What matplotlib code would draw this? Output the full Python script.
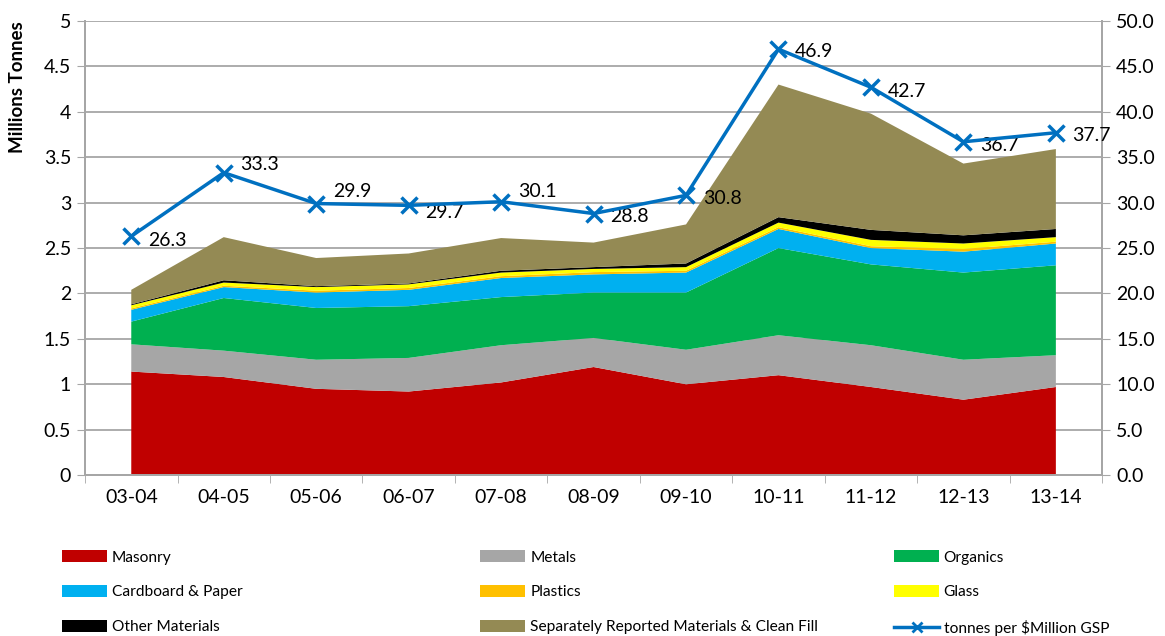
import numpy as np
import matplotlib

matplotlib.use("Agg")
import matplotlib.pyplot as plt
from matplotlib.patches import Patch
from matplotlib.lines import Line2D

plt.rcParams["font.family"] = ["Lato", "DejaVu Sans"]

years = ["03-04", "04-05", "05-06", "06-07", "07-08", "08-09",
         "09-10", "10-11", "11-12", "12-13", "13-14"]

# millions of tonnes, per material
masonry = [1.14, 1.08, 0.95, 0.92, 1.02, 1.19, 1.00, 1.10, 0.97, 0.83, 0.97]
metals = [0.30, 0.29, 0.32, 0.37, 0.41, 0.32, 0.38, 0.44, 0.46, 0.44, 0.35]
organics = [0.25, 0.58, 0.57, 0.57, 0.53, 0.50, 0.63, 0.96, 0.89, 0.96, 0.99]
cardboard = [0.13, 0.12, 0.17, 0.18, 0.21, 0.20, 0.22, 0.21, 0.18, 0.23, 0.24]
plastics = [0.015, 0.015, 0.02, 0.02, 0.02, 0.025, 0.02, 0.02, 0.02, 0.03, 0.02]
glass = [0.035, 0.035, 0.04, 0.04, 0.04, 0.035, 0.04, 0.05, 0.07, 0.06, 0.05]
other = [0.01, 0.025, 0.01, 0.01, 0.02, 0.02, 0.04, 0.06, 0.11, 0.09, 0.09]
separate = [0.16, 0.475, 0.31, 0.33, 0.36, 0.27, 0.43, 1.46, 1.28, 0.79, 0.88]

# tonnes per $million GSP (right axis)
intensity = [26.3, 33.3, 29.9, 29.7, 30.1, 28.8, 30.8, 46.9, 42.7, 36.7, 37.7]

names = ["Masonry", "Metals", "Organics", "Cardboard & Paper", "Plastics",
         "Glass", "Other Materials", "Separately Reported Materials & Clean Fill"]
colors = ["#C00000", "#A6A6A6", "#00B050", "#00B0F0", "#FFC000",
          "#FFFF00", "#000000", "#948A54"]
line_name = "tonnes per $Million GSP"
line_color = "#0070C0"

# label nudges in points (dx, dy)
label_offsets = [(12, -3), (12, 6), (12, 9), (12, -5), (12, 7), (12, -2),
                 (12, -2), (12, -2), (12, -3), (12, -3), (12, -2)]

grid_col = "#A6A6A6"
fs = 14

fig = plt.figure(figsize=(11.65, 6.36), dpi=100)
ax = fig.add_axes([0.073, 0.253, 0.873, 0.714])
x = np.arange(len(years))

ax.stackplot(x, masonry, metals, organics, cardboard, plastics, glass, other,
             separate, colors=colors, linewidth=0, zorder=2)
ax.set_xlim(-0.5, len(years) - 0.5)
ax.set_ylim(0, 5)
ax.set_yticks(np.arange(0, 5.01, 0.5))
ax.set_yticklabels(["{:g}".format(v) for v in np.arange(0, 5.01, 0.5)])
ax.set_xticks(x)
ax.set_xticklabels(years)
ax.set_xticks(np.arange(-0.5, len(years), 1.0), minor=True)
ax.tick_params(axis="x", which="major", length=0, pad=10, labelsize=fs)
ax.tick_params(axis="x", which="minor", length=6, color=grid_col, direction="out")
ax.tick_params(axis="y", length=6, color=grid_col, labelsize=fs, pad=4)
ax.grid(axis="y", color=grid_col, linewidth=1.3, zorder=0)
ax.set_axisbelow(True)
ax.set_ylabel("Millions Tonnes", fontsize=13.5, fontweight="bold", loc="top")
ax.yaxis.set_label_coords(-0.058, 1.0)
for side in ("left", "right", "bottom"):
    ax.spines[side].set_color(grid_col)
    ax.spines[side].set_linewidth(1.3)
ax.spines["top"].set_visible(False)

ax2 = ax.twinx()
ax2.plot(x, intensity, color=line_color, linewidth=2.5, marker="x",
         markersize=12, markeredgewidth=2.5, zorder=5)
ax2.set_ylim(0, 50)
ax2.set_yticks(np.arange(0, 50.1, 5))
ax2.set_yticklabels(["{:.1f}".format(v) for v in np.arange(0, 50.1, 5)])
ax2.tick_params(axis="y", length=6, color=grid_col, labelsize=fs, pad=4)
for side in ("left", "right", "bottom"):
    ax2.spines[side].set_color(grid_col)
    ax2.spines[side].set_linewidth(1.3)
ax2.spines["top"].set_visible(False)
for xi, v, off in zip(x, intensity, label_offsets):
    ax2.annotate("{:.1f}".format(v), (xi, v), xytext=off, textcoords="offset points",
                 ha="left", va="center", fontsize=fs)

patches = [Patch(facecolor=c, edgecolor="none") for c in colors]
line_handle = Line2D([], [], color=line_color, linewidth=2.5, marker="x",
                     markersize=7, markeredgewidth=2)
handles = patches + [line_handle]
labels = names + [line_name]

col_x = [0.048, 0.407, 0.762]
for ci in range(3):
    idx = [ci, ci + 3, ci + 6]
    fig.legend([handles[i] for i in idx], [labels[i] for i in idx],
               loc="upper left", bbox_to_anchor=(col_x[ci], 0.145),
               frameon=False, fontsize=11.2, handlelength=2.9, handleheight=0.85,
               handletextpad=0.3, labelspacing=1.3, borderaxespad=0)

fig.savefig("out.png", dpi=100)
